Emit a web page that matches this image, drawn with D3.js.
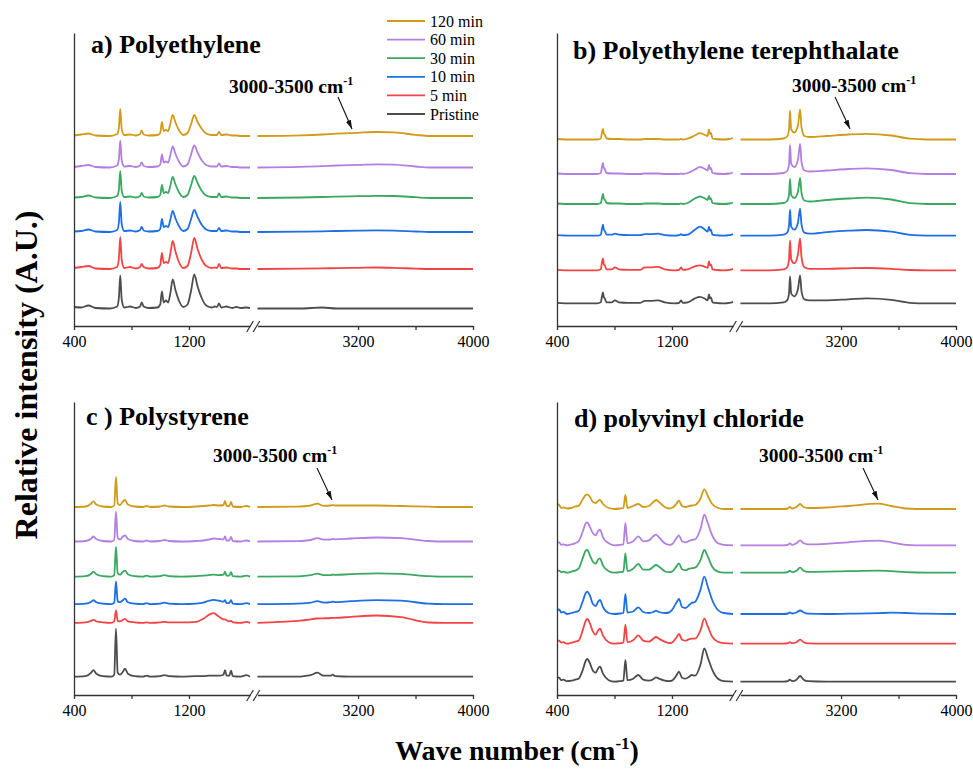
<!DOCTYPE html>
<html>
<head>
<meta charset="utf-8">
<script src="https://cdn.jsdelivr.net/npm/d3@7"></script>
<style>
  body { margin: 0; background: #fff; }
  svg { display: block; font-family: "Liberation Serif", "Times New Roman", serif; }
</style>
</head>
<body>
<div id="chart"></div>
<script>
// Series (top to bottom in every panel)
const seriesNames = ["120 min", "60 min", "30 min", "10 min", "5 min", "Pristine"];
const seriesColors = ["#d09b1a", "#b37fe0", "#3aa860", "#1d6fe3", "#f24444", "#4d4d4d"];

// broken x axis: two segments of wave number
const leftRange = [400, 1625];
const rightRange = [2500, 4000];
const tickLeft = [400, 800, 1200];
const tickRight = [3200, 3600, 4000];
const tickLabels = [400, 1200, 3200, 4000];

// a) Polyethylene
const peWn = [400,450,500,550,650,700,712,722,732,750, 790,830,860,871,885,920,980,1000,1012,1024,
  1040,1055,1070,1087,1105,1130,1160,1190,1215,1237, 1260,1290,1320,1360,1380,1395,1409,1425,1460,1500,
  1530,1560,1600,1625, 2500,2800,2950,3050,3200,3330,3450,3600,3700,4000];
const pe120 = [0.5,1.5,2.5,0.5,0,2,8,27,7,1, 1.5,0.5,2,5.5,1.5,0.5,1,3,14,5, 6,5,12,21,14,6,1,3,12,21,
  14,7,2.5,1,1,1,4,1,1.5,0.5, 0.5,0,0,0, 0,0.7,1.5,2.3,3.2,4,3.6,1.2,0,0];
const pe60 = [0.5,1.5,2.5,0.5,0,2,8,27,7,1, 1.5,0.5,2,5,1.5,0.5,1,3,13,5, 6,5,12,21,14,6,1,3,13,22,
  15,7,2.5,1,1,1,4,1,1.5,0.5, 0.5,0,0,0, 0,0.6,1.3,2,2.6,3.2,2.9,1,0,0];
const pe30 = [0.5,1,2.5,0.5,0,2,8,27,7,1, 1.5,0.5,2,5,1.5,0.5,1,3,13,5, 6,5,12,21,14,6,1,3,13,22,
  15,7,2.5,1,1,1,4.5,1,1.5,0.5, 0.5,0,0,0, 0,0.5,1,1.4,1.8,2.2,2,0.8,0,0];
const pe10 = [0.5,1,2.5,0.5,0,2,9,30,8,1, 1.5,0.5,2,5,1.5,0.5,1,3,13,5, 6,5,12,21,14,6,1,3,13,22,
  15,7,2.5,1,1,1,4,1,1.5,0.5, 0.5,0,0,0, 0,0.3,0.6,1,1.4,1.6,1.4,0.5,0,0];
const pe5 = [1,2,3,0.5,0,2,10,32,9,1, 2,0.5,2,5,2,0.5,1,4,16,6, 7,6,15,28,18,7,1,3,16,31,
  20,9,3,1,1.5,1,5,1,1.5,0.5, 0.5,0,0,0, 0,0.3,0.6,0.9,1.2,1.5,1.2,0.4,0,0];
const pe0 = [1.5,1,3,0.5,0,2,10,33,9,1, 2,0.5,2,6,2,0.5,1,4,17,6, 8,6,15,29,19,8,1.5,4,18,34,
  22,10,3,1,2,1.5,5,1,2,0.5, 1.5,0.5,1,0.5, 0,0,1,0,0,0,0,0,0,0];
const peOffset = [190, 158.5, 128, 94, 57, 17.5];

// b) Polyethylene terephthalate
const petWn = [400,500,600,680,705,713,720,726,732,745, 780,803,830,900,980,1012,1050,1103,1150,1220,
  1250,1263,1275,1310,1360,1395,1430,1448,1458,1464, 1471,1482,1500,1560,1600,1625,
  2500,2700,2800,2825,2838,2845,2853,2875,2900,2915, 2925,2945,2980,3100,3250,3378,3550,3680,3800,4000];
const pet120 = [0.5,0,0,0,1,7,10.7,6,5,1, 0.5,0.5,0.5,0,0,0.5,0.5,0.5,0,0, 0,0.5,0,1,4,6.3,4.5,3.5,10,5.5,
  6.5,1,0.5,0,0.5,1.5, 0,0,1,3,10,29,10,7,14,30, 12,3.5,2.5,3.5,5,5.7,4,0.8,0,0];
const pet60 = [0.5,0,0,0,1,7,11,6,5,1, 0.5,0.5,0.5,0,0,0.5,0.5,0.5,0,0, 0,0.5,0,1,4.5,7,5,3.5,9,5,
  6,1,0.5,0,0.5,1.5, 0,0,1,3,10,29,10,7,14,30, 12,3.5,2.5,3.5,5,5.7,4,0.8,0,0];
const pet30 = [0.5,0,0,0,1,6,10,5.5,4.5,1, 0.5,0.5,0.5,0,0,0.5,0.5,0.5,0,0, 0,0.5,0,1,5.5,7.5,5.5,4,8,5,
  5.5,1,0.5,0,0.5,1.5, 0,0,1,3,9,25,9,6,12,26, 11,3.5,2.5,4,5.5,6.3,4.5,0.8,0,0];
const pet10 = [0.5,0,0,0,1,7,11,6,5,1, 1,2,1,0.5,0.5,1.5,1.5,2,0.5,0, 0.5,1.5,0.5,1,6,9,6,4,9,5,
  6,1,0.5,0,0.5,1.5, 0,0,1,3,10,26,9,6,13,27, 11,3,2,3.5,5,5.7,4,0.8,0,0];
const pet5 = [0.5,0,0,0,1,8,12,6,5,1, 1,3,1,0.5,0.5,3,3,3.5,1,0, 0.5,3,0.5,1,4,5,3.5,2.5,9,5,
  6,1,0.5,0,0.5,1.5, 0,0,1,3,11,30,11,7,16,32, 13,3,1.5,1.5,2,2.3,1.5,0.3,0,0];
const pet0 = [0.5,0,0,0,1,7,11,6,5,1, 1,3,1,0.5,0.5,2.5,2.5,3,1,0, 0.5,3,0.5,1,5,6.5,4.5,3,9,5,
  6,1,0.5,0,0.5,1.5, 0,0,1,3,10,27,10,7,14,28, 12,4,3,3,4,5,3.5,0.5,0,0];
const petOffset = [186.5, 152, 122, 90.3, 55.7, 22.7];

// c) Polystyrene
const psWn = [400,480,520,535,555,600,660,680,692,704, 720,740,755,775,820,880,906,930,1000,1029,
  1060,1150,1250,1300,1340,1370,1410,1440,1451,1462, 1480,1493,1505,1560,1600,1625,
  2500,2780,2843,2870,2917,2960,3010,3024,3040,3150, 3330,3500,3690,3800,4000];
const ps120 = [0,0.5,3.5,5.7,2.5,0.5,0,1.5,30,3.5, 2,5.5,7,2.5,0.5,0,1,0,0.5,1.5, 0.5,0,0.5,1,1.5,2,1.5,2,6,1,
  1,5,0.5,0,1,0, 0,0.3,1,1.5,3.3,1.2,1.5,2,1.5,1.5, 1.5,1,0.3,0,0];
const ps60 = [0,0.5,3,5,2.5,0.5,0,1.5,30,3.5, 2,5,6,2.5,0.5,0,1,0,0.5,1.5, 0.5,0,0.5,1,2,3,2.5,2,5,1,
  1,4.5,0.5,0,1,0, 0,0.3,1,1.5,3.3,1.8,2,2.5,2.2,3, 4,3.3,0.5,0,0];
const ps30 = [0,0.5,3,5,2.5,0.5,0,1.5,30,3.5, 2,5,6,2.5,0.5,0,1,0,0.5,1.5, 0.5,0,0.5,1,1.5,2,1.5,2,5,1,
  1,4.5,0.5,0,1,0, 0,0.3,1,1.5,3,1.5,1.5,2.2,1.8,2.5, 3.3,2.8,0.5,0,0];
const ps10 = [0,0.5,2.5,4,2,0.5,0,1.5,22.7,3, 2,4,5.5,2,0.5,0,1,0,0.5,1.5, 0.5,0,0.5,1.5,3.5,4.3,3.5,2.5,4,1,
  1,4,0.5,0,1,0, 0,0.5,1,1.5,3,1.5,2,2.5,2,3, 4,3.5,0.5,0,0];
const ps5 = [0,0.5,2,3,1.5,0.5,0,1.5,12.3,2, 1.5,3,4,1.5,0.5,0,0.5,0,0.5,1, 0.5,0.5,1,4,8,9.7,6,3.5,3.5,2.5,
  1.5,2,0.5,0,1,0, 0,2,2.8,3.5,4.3,4.5,4.8,5,5,6, 7.3,5.7,0.3,0,0];
const ps0 = [0,0.5,4,6.5,3,0.5,0,2,48,4, 2,5,8,3,0.5,0,1,0,0.5,1.5, 0.5,0,0.5,0.5,1,1,1,2,6.5,1,
  1,6,0.5,0,1.5,0, 0,0,1,1.5,4,1,1,2,0.5,0, 0,0,0,0,0];
const psOffset = [188, 153.5, 118.3, 90.8, 72.2, 18.3];

// d) polyvinyl chloride
const pvcWn = [400,415,430,445,470,500,525,550,580,600, 611,630,650,670,685,699,720,760,800,840,
  862,876,890,930,966,1000,1040,1070,1089,1110, 1150,1180,1200,1230,1249,1270,1295,1320,1337,1360,
  1400,1425,1450,1480,1520,1560,1625,
  2500,2800,2830,2843,2860,2890,2915,2940,2970,3100, 3250,3457,3550,3650,3800,4000];
const pvc120 = [5,4,1,1.5,0.5,1,2.5,3,10,14, 14.7,12,7,6,8,9,5,1,0,0.5, 1,14,1,3,5,2,3,7,9,7,
  2,0.5,1,5,8.3,3,2,3,3.5,4, 11,19.7,13,5,1,0,0, 0,0,0.5,2,0.5,2,5,2,1,1.5, 3,5.3,3,0.5,0,0];
const pvc60 = [3,3,0.5,1,0,1,2,4,14,22, 23,18,12,10,14,15.7,8,2,0,0.5, 1,22.3,2,4,9,4,5,9,10.7,8,
  2,0.5,1,7,10,4,3,4.5,5.5,6, 17,30.7,22,10,2,0.5,0, 0,0,0.5,2,0.5,2,5,2,1,1.5, 3,4.7,3,0.5,0,0];
const pvc30 = [2,2,0.5,1,0,1,2,4,15,22, 22.7,17,11,9,13,14.3,7,1.5,0,0.5, 1,19.3,1.5,4,8.7,3,3,6,7.7,6,
  1.5,0.5,1,6,9.3,3.5,2.5,4,4.5,5, 13,22.7,16,6,1,0,0, 0,0,0.5,2,0.5,2,5,2,0.8,1, 1.5,2,1.5,0.5,0,0];
const pvc10 = [4,4.5,1.5,2,0,1,2,3,13,21, 22.3,18,10,8,12,14,7,1,0,0.5, 1,20,1.5,2.5,6.7,2,1,2,3.3,2,
  1,1.5,4,11,15,7,6,9,11,12, 25,37.3,27,14,4,1,0, 0,0,0.5,1.5,0.5,1.5,3.5,1.5,0.3,0, 0.3,0.8,1.3,1,0.3,0];
const pvc5 = [3,3,1,1.5,0,1,2,3,14,23, 24.7,20,12,9,13,15,8,1.5,0,0.5, 1,19,1.5,3.5,8.3,3,2,5,6.7,5,
  2,0.5,1,6,9.7,4,3,4.5,5,5, 14,25,17,7,2,0.5,0, 0,0,0.5,1.5,0.5,1.5,4,1.5,0.3,0, 0,0,0,0,0,0];
const pvc0 = [4,4,1.5,2,0.5,1,2,3,12,21, 22.7,18,11,9,13,15,8,1.5,0,0.5, 1,21.7,1.5,3,6.7,2,1,2.5,4.3,3,
  1,0.5,1,6,10,4,3,5,6.7,6, 18,33.3,24,12,3,0.5,0, 0,0,0.5,2,0.5,2,5.7,2,0.5,0, 0,0,0,0,0,0];
const pvcOffset = [186, 149.7, 122.3, 81, 51.3, 13.3];

// panel layout (pixels) - values above stay pure data
const panels = [
  { title: "a) Polyethylene", wn: peWn, series: [pe120, pe60, pe30, pe10, pe5, pe0], offset: peOffset,
    left: 74, bottom: 326, titlePos: [91, 53], notePos: [229, 92.5], arrow: [338, 97, 352, 129] },
  { title: "b) Polyethylene terephthalate", wn: petWn, series: [pet120, pet60, pet30, pet10, pet5, pet0], offset: petOffset,
    left: 557, bottom: 326, titlePos: [573, 59], notePos: [792, 92], arrow: [835, 97, 850, 129] },
  { title: "c ) Polystyrene", wn: psWn, series: [ps120, ps60, ps30, ps10, ps5, ps0], offset: psOffset,
    left: 74, bottom: 695, titlePos: [86, 425], notePos: [213, 462], arrow: [317, 468, 332, 500] },
  { title: "d) polyvinyl chloride", wn: pvcWn, series: [pvc120, pvc60, pvc30, pvc10, pvc5, pvc0], offset: pvcOffset,
    left: 557, bottom: 695, titlePos: [574, 427], notePos: [759, 462], arrow: [863, 468, 878, 500] }
];

const width = 973, height = 771;
const plotW = 399, plotH = 293;
const pxPerWn = 0.1437;
const axisColor = "#333";

const svg = d3.select("#chart").append("svg")
  .attr("width", width)
  .attr("height", height);

svg.append("defs").append("marker")
  .attr("id", "arrowhead")
  .attr("markerUnits", "userSpaceOnUse")
  .attr("viewBox", "0 0 10 6")
  .attr("refX", 10).attr("refY", 3)
  .attr("markerWidth", 9).attr("markerHeight", 6)
  .attr("orient", "auto")
  .append("path")
  .attr("d", "M0,0 L10,3 L0,6 Z")
  .attr("fill", "#111");

panels.forEach(p => {
  const g = svg.append("g");

  const xL = d3.scaleLinear().domain(leftRange)
    .range([p.left, p.left + (leftRange[1] - leftRange[0]) * pxPerWn]);
  const xR = d3.scaleLinear().domain(rightRange)
    .range([p.left + plotW - (rightRange[1] - rightRange[0]) * pxPerWn, p.left + plotW]);
  const y = d3.scaleLinear().domain([0, plotH]).range([p.bottom, p.bottom - plotH]);

  const line = d3.line()
    .x(d => d.w < 2000 ? xL(d.w) : xR(d.w))
    .y(d => y(d.v))
    .curve(d3.curveMonotoneX);

  // spectra, drawn bottom first
  p.series.slice().reverse().forEach((vals, ri) => {
    const i = p.series.length - 1 - ri;
    const pts = p.wn.map((w, j) => ({ w, v: vals[j] + p.offset[i] }));
    [pts.filter(d => d.w < 2000), pts.filter(d => d.w >= 2000)].forEach(seg => {
      g.append("path")
        .datum(seg)
        .attr("d", line)
        .attr("fill", "none")
        .attr("stroke", seriesColors[i])
        .attr("stroke-width", 1.8)
        .attr("stroke-linejoin", "round");
    });
  });

  // y axis (no ticks)
  g.append("g")
    .attr("transform", `translate(${p.left},0)`)
    .call(d3.axisLeft(y).tickValues([]).tickSizeOuter(0))
    .select(".domain").attr("stroke", axisColor).attr("stroke-width", 1.3);

  // x axis, two segments
  [[xL, tickLeft], [xR, tickRight]].forEach(([sc, tv]) => {
    const ax = g.append("g")
      .attr("transform", `translate(0,${p.bottom})`)
      .call(d3.axisBottom(sc).tickValues(tv).tickSize(4).tickSizeOuter(0).tickPadding(6)
        .tickFormat(d => tickLabels.includes(d) ? d : ""));
    ax.select(".domain").attr("stroke", axisColor).attr("stroke-width", 1.3);
    ax.selectAll(".tick line").attr("stroke", axisColor).attr("stroke-width", 1.3);
    ax.selectAll("text")
      .style("font-family", "'Liberation Serif', 'Times New Roman', serif")
      .style("font-size", "16px")
      .attr("fill", "#000");
  });

  // break marks
  [xL(leftRange[1]), xR(rightRange[0]) - 1].forEach(bx => {
    g.append("line")
      .attr("x1", bx - 3.3).attr("y1", p.bottom + 6)
      .attr("x2", bx + 3.3).attr("y2", p.bottom - 5)
      .attr("stroke", axisColor).attr("stroke-width", 1.2);
  });

  // panel title
  g.append("text")
    .attr("x", p.titlePos[0]).attr("y", p.titlePos[1])
    .attr("font-size", 26).attr("font-weight", "bold")
    .text(p.title);

  // 3000-3500 cm-1 note with arrow
  const note = g.append("text")
    .attr("x", p.notePos[0]).attr("y", p.notePos[1])
    .attr("font-size", 19.5).attr("font-weight", "bold");
  note.append("tspan").text("3000-3500 cm");
  note.append("tspan").attr("dy", -8).attr("font-size", 12).text("-1");

  g.append("line")
    .attr("x1", p.arrow[0]).attr("y1", p.arrow[1])
    .attr("x2", p.arrow[2]).attr("y2", p.arrow[3])
    .attr("stroke", "#111").attr("stroke-width", 1.1)
    .attr("marker-end", "url(#arrowhead)");
});

// legend (inside panel a, top right)
const legend = svg.append("g").attr("transform", "translate(387,21)");
seriesNames.forEach((name, i) => {
  const row = legend.append("g").attr("transform", `translate(0,${i * 18.6})`);
  row.append("line")
    .attr("x1", 0).attr("x2", 38)
    .attr("stroke", seriesColors[i]).attr("stroke-width", 1.8);
  row.append("text")
    .attr("x", 43).attr("dy", "0.35em")
    .attr("font-size", 16)
    .text(name);
});

// axis titles
svg.append("text")
  .attr("transform", "translate(37,375) rotate(-90)")
  .attr("text-anchor", "middle")
  .attr("font-size", 32).attr("font-weight", "bold")
  .text("Relative intensity (A.U.)");

const xt = svg.append("text")
  .attr("x", 517).attr("y", 760)
  .attr("text-anchor", "middle")
  .attr("font-size", 28).attr("font-weight", "bold");
xt.append("tspan").text("Wave number (cm");
xt.append("tspan").attr("dy", -11).attr("font-size", 17).text("-1");
xt.append("tspan").attr("dy", 11).text(")");
</script>
</body>
</html>
